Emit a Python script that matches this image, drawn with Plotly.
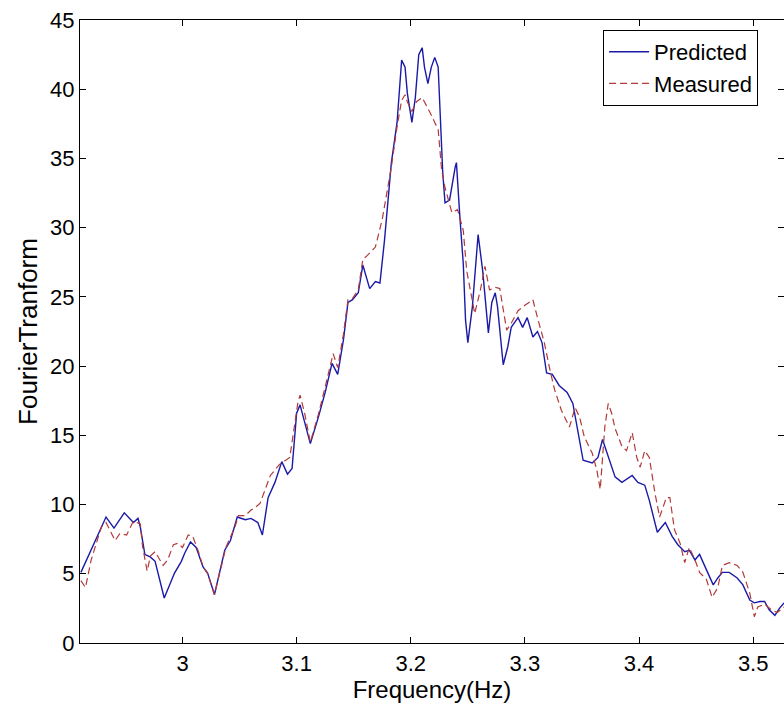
import plotly.graph_objects as go

# Predicted series (solid blue)
pred_freq = [2.911, 2.933, 2.940, 2.949, 2.957, 2.961, 2.963, 2.967, 2.972, 2.976, 2.984, 2.993, 2.999,
             3.002, 3.007, 3.012, 3.018, 3.022, 3.028, 3.037, 3.042, 3.048, 3.055, 3.060, 3.066, 3.070,
             3.075, 3.081, 3.087, 3.092, 3.096, 3.100, 3.103, 3.107, 3.112, 3.119, 3.125, 3.131, 3.136,
             3.141, 3.145, 3.149, 3.154, 3.158, 3.164, 3.169, 3.173, 3.177, 3.180, 3.183, 3.188, 3.192,
             3.195, 3.197, 3.201, 3.204, 3.207, 3.210, 3.212, 3.215, 3.218, 3.221, 3.224, 3.226, 3.228,
             3.230, 3.234, 3.239, 3.240, 3.243, 3.246, 3.248, 3.250, 3.254, 3.259, 3.263, 3.268, 3.271,
             3.274, 3.276, 3.281, 3.285, 3.288, 3.294, 3.298, 3.302, 3.307, 3.311, 3.315, 3.319, 3.324,
             3.330, 3.337, 3.342, 3.345, 3.348, 3.351, 3.359, 3.364, 3.368, 3.373, 3.379, 3.385, 3.394,
             3.399, 3.405, 3.409, 3.414, 3.416, 3.423, 3.429, 3.434, 3.440, 3.444, 3.449, 3.453, 3.459,
             3.465, 3.469, 3.473, 3.479, 3.486, 3.491, 3.497, 3.501, 3.506, 3.510, 3.514, 3.519, 3.523, 3.527]
pred_vals = [5.1, 9.1, 8.3, 9.4, 8.7, 9.0, 8.4, 6.4, 6.2, 5.9, 3.25, 5.05, 5.9,
             6.5, 7.3, 6.9, 5.5, 5.05, 3.5, 6.7, 7.4, 9.1, 8.9, 9.0, 8.7, 7.8,
             10.5, 11.6, 13.1, 12.2, 12.6, 16.6, 17.2, 15.9, 14.4, 16.3, 18.1, 20.2, 19.4,
             21.9, 24.6, 24.8, 25.3, 27.3, 25.6, 26.1, 26.0, 29.1, 32.0, 34.7, 37.6, 42.1,
             41.6, 39.7, 37.6, 39.4, 42.5, 43.0, 41.6, 40.4, 41.6, 42.3, 41.6, 37.1, 34.0,
             31.8, 32.0, 34.4, 34.7, 30.8, 27.4, 23.3, 21.7, 24.3, 29.5, 26.9, 22.4, 24.6,
             25.3, 24.3, 20.1, 21.4, 22.8, 23.5, 22.8, 23.5, 22.1, 22.5, 21.7, 19.5, 19.4,
             18.6, 18.1, 17.3, 15.9, 14.4, 13.2, 13.0, 13.4, 14.7, 13.4, 12.0, 11.6, 12.1,
             11.6, 11.4, 10.3, 8.7, 8.0, 8.7, 7.7, 7.1, 6.6, 6.7, 6.0, 6.4, 5.3,
             4.2, 4.7, 5.1, 5.1, 4.7, 4.2, 3.1, 2.9, 3.0, 3.0, 2.4, 2.0, 2.5, 2.9]

# Measured series (dashed red)
meas_freq = [2.911, 2.915, 2.920, 2.929, 2.933, 2.937, 2.941, 2.945, 2.951, 2.957, 2.963, 2.965, 2.969,
             2.972, 2.976, 2.983, 2.987, 2.992, 2.996, 3.000, 3.005, 3.009, 3.014, 3.018, 3.022, 3.028,
             3.033, 3.038, 3.046, 3.049, 3.055, 3.060, 3.064, 3.068, 3.077, 3.085, 3.094, 3.097, 3.101,
             3.103, 3.107, 3.112, 3.119, 3.125, 3.132, 3.136, 3.141, 3.145, 3.149, 3.154, 3.158, 3.162,
             3.169, 3.175, 3.179, 3.183, 3.188, 3.192, 3.195, 3.197, 3.201, 3.205, 3.210, 3.212, 3.217,
             3.221, 3.224, 3.227, 3.230, 3.233, 3.236, 3.241, 3.246, 3.249, 3.254, 3.256, 3.261, 3.265,
             3.269, 3.274, 3.278, 3.284, 3.288, 3.294, 3.300, 3.304, 3.307, 3.311, 3.317, 3.322, 3.326,
             3.332, 3.339, 3.344, 3.348, 3.352, 3.359, 3.363, 3.366, 3.370, 3.373, 3.376, 3.379, 3.385,
             3.389, 3.394, 3.398, 3.401, 3.405, 3.409, 3.414, 3.418, 3.424, 3.427, 3.431, 3.436, 3.440,
             3.444, 3.449, 3.453, 3.459, 3.464, 3.469, 3.473, 3.479, 3.486, 3.491, 3.497, 3.501, 3.504,
             3.510, 3.516, 3.521, 3.527]
meas_vals = [4.5, 4.0, 6.0, 8.4, 8.7, 8.0, 7.4, 7.9, 7.8, 8.8, 8.6, 7.0, 5.2,
             6.3, 6.6, 5.6, 6.0, 7.1, 7.2, 6.9, 7.8, 7.7, 6.6, 5.5, 5.0, 3.5,
             5.2, 6.9, 8.4, 9.2, 9.2, 9.6, 9.8, 10.1, 12.1, 12.9, 13.4, 15.2, 17.3,
             17.9, 16.6, 14.5, 16.5, 18.5, 20.9, 19.9, 22.3, 24.8, 24.9, 25.5, 27.7, 28.0,
             28.6, 30.6, 32.5, 34.4, 37.3, 39.2, 39.6, 39.1, 38.4, 39.1, 39.4, 39.1, 38.3,
             37.6, 37.1, 34.2, 32.9, 32.0, 31.1, 31.3, 29.8, 26.9, 24.6, 23.8, 25.5, 27.2,
             25.5, 25.7, 25.6, 22.6, 23.1, 24.0, 24.4, 24.6, 24.8, 23.5, 21.7, 19.7, 18.3,
             16.8, 15.6, 17.0, 16.3, 14.9, 13.7, 12.5, 11.1, 15.6, 17.3, 16.6, 15.5, 14.2,
             13.9, 15.2, 13.4, 12.7, 13.9, 13.4, 10.8, 9.1, 10.5, 10.5, 8.2, 7.2, 5.8,
             6.9, 6.0, 5.1, 4.6, 3.3, 4.0, 5.6, 5.8, 5.6, 5.1, 3.6, 1.9, 2.6,
             2.8, 2.4, 2.2, 2.6]

x_ticks = [3.0, 3.1, 3.2, 3.3, 3.4, 3.5]
x_tick_labels = ["3", "3.1", "3.2", "3.3", "3.4", "3.5"]
y_ticks = [0, 5, 10, 15, 20, 25, 30, 35, 40, 45]

FONT = "Liberation Sans, Arial, sans-serif"

fig = go.Figure()
fig.add_trace(go.Scatter(x=pred_freq, y=pred_vals, mode="lines", name="Predicted",
                         line=dict(color="#1a1aa8", width=1.4)))
fig.add_trace(go.Scatter(x=meas_freq, y=meas_vals, mode="lines", name="Measured",
                         line=dict(color="#b23a3a", width=1.2, dash="7px,4px")))

axis_common = dict(showgrid=False, zeroline=False, showline=True, linecolor="black", linewidth=1.3,
                   mirror="ticks", ticks="inside", ticklen=6, tickcolor="black", tickwidth=1.2,
                   tickfont=dict(family=FONT, size=22, color="black"))

fig.update_layout(
    width=784, height=709,
    margin=dict(l=80, r=0, t=20, b=66),
    paper_bgcolor="white", plot_bgcolor="white",
    font=dict(family=FONT, color="black"),
    xaxis=dict(range=[2.9102, 3.527], tickvals=x_ticks, ticktext=x_tick_labels,
               title=dict(text="Frequency(Hz)", font=dict(family=FONT, size=24), standoff=4),
               **axis_common),
    yaxis=dict(range=[0, 45], tickvals=y_ticks,
               title=dict(text="FourierTranform", font=dict(family=FONT, size=26), standoff=4),
               **axis_common),
    legend=dict(x=0.743, y=0.984, xanchor="left", yanchor="top",
                bgcolor="white", bordercolor="black", borderwidth=1,
                font=dict(family=FONT, size=22, color="black"),
                tracegroupgap=0, itemwidth=40),
    showlegend=True,
)

fig.write_html("out.html")
